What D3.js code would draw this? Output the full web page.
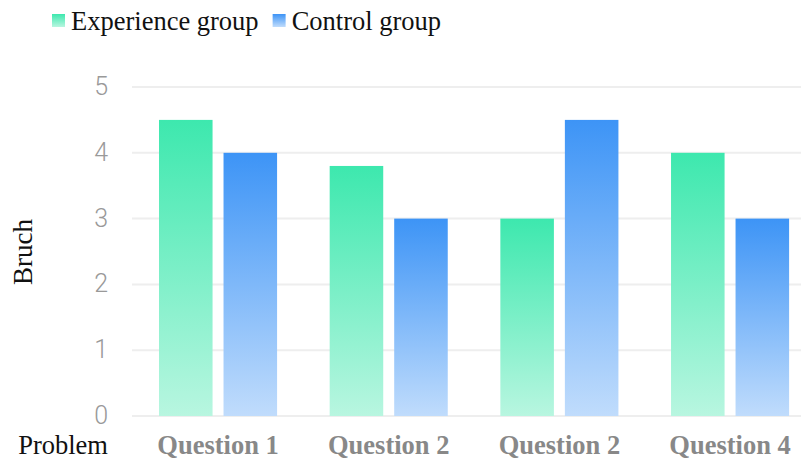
<!DOCTYPE html>
<html><head><meta charset="utf-8">
<script src="https://cdn.jsdelivr.net/npm/d3@7/dist/d3.min.js"></script>
<style>body{margin:0;background:#fff;}svg{display:block;}</style>
</head><body><svg id="c" width="801" height="460"></svg>
<script>
const categories = ["Question 1","Question 2","Question 2","Question 4"];
const seriesNames = ["Experience group","Control group"];
const experience = [4.5, 3.8, 3, 4];
const control = [4, 3, 4.5, 3];
const yTicks = [0,1,2,3,4,5];
const colors = [["#3de8ae","#b8f6e0"],["#3d94f6","#c0dcfc"]];

const svg = d3.select("#c");
const W=801,H=460;
const x = d3.scaleBand().domain(d3.range(categories.length)).range([132.7,815.4]).paddingInner(0).paddingOuter(0);
const y = d3.scaleLinear().domain([0,5]).range([416,87]);
const inner = d3.scaleBand().domain([0,1]).range([26.3, x.bandwidth()-26.3]).paddingInner(0.17);

const defs = svg.append("defs");
colors.forEach((c,i)=>{
  const g = defs.append("linearGradient").attr("id","g"+i).attr("x1",0).attr("y1",0).attr("x2",0).attr("y2",1);
  g.append("stop").attr("offset","0%").attr("stop-color",c[0]);
  g.append("stop").attr("offset","100%").attr("stop-color",c[1]);
});

// grid
svg.append("g").selectAll("line").data(yTicks).join("line")
  .attr("x1",132).attr("x2",W).attr("y1",d=>y(d)).attr("y2",d=>y(d))
  .attr("stroke","#eeeeee").attr("stroke-width",2);

// y axis labels
const yAxis = d3.axisLeft(y).tickValues(yTicks).tickFormat(d3.format("d")).tickSize(0).tickPadding(0);
const ya = svg.append("g").attr("transform","translate(108,0)").call(yAxis);
ya.select(".domain").remove();
ya.selectAll("text").attr("font-family","Roboto, sans-serif").attr("font-weight",300).attr("font-size",25).attr("fill","#999").attr("dy","0.3em");

// bars
const series=[experience,control];
series.forEach((vals,si)=>{
  svg.append("g").selectAll("rect").data(vals).join("rect")
    .attr("x",(d,i)=>x(i)+inner(si)).attr("width",inner.bandwidth())
    .attr("y",d=>y(d)).attr("height",d=>y(0)-y(d))
    .attr("fill","url(#g"+si+")");
});

// x axis labels
const xAxis = d3.axisBottom(x).tickFormat(i=>categories[i]).tickSize(0).tickPadding(0);
const xa = svg.append("g").attr("transform","translate(0,454)").call(xAxis);
xa.select(".domain").remove();
xa.selectAll("text").attr("font-family","'Liberation Serif', serif").attr("font-weight","bold").attr("font-size",26.5).attr("fill","#888").attr("dy","0");

svg.append("text").attr("x",108).attr("y",454).attr("text-anchor","end")
  .attr("font-family","'Liberation Serif', serif").attr("font-size",26.5).attr("fill","#111").text("Problem");
svg.append("text").attr("transform","translate(32,252) rotate(-90)").attr("text-anchor","middle")
  .attr("font-family","'Liberation Serif', serif").attr("font-size",27).attr("fill","#111").text("Bruch");

// legend
const lg = svg.append("g");
let lx = 52;
seriesNames.forEach((n,i)=>{
  lg.append("rect").attr("x",lx).attr("y",14).attr("width",13).attr("height",13).attr("fill","url(#g"+i+")");
  const t = lg.append("text").attr("x",lx+19).attr("y",30).attr("font-family","'Liberation Serif', serif").attr("font-size",26.5).attr("fill","#111").text(n);
  lx += 19 + t.node().getComputedTextLength() + 14;
});
</script></body></html>
